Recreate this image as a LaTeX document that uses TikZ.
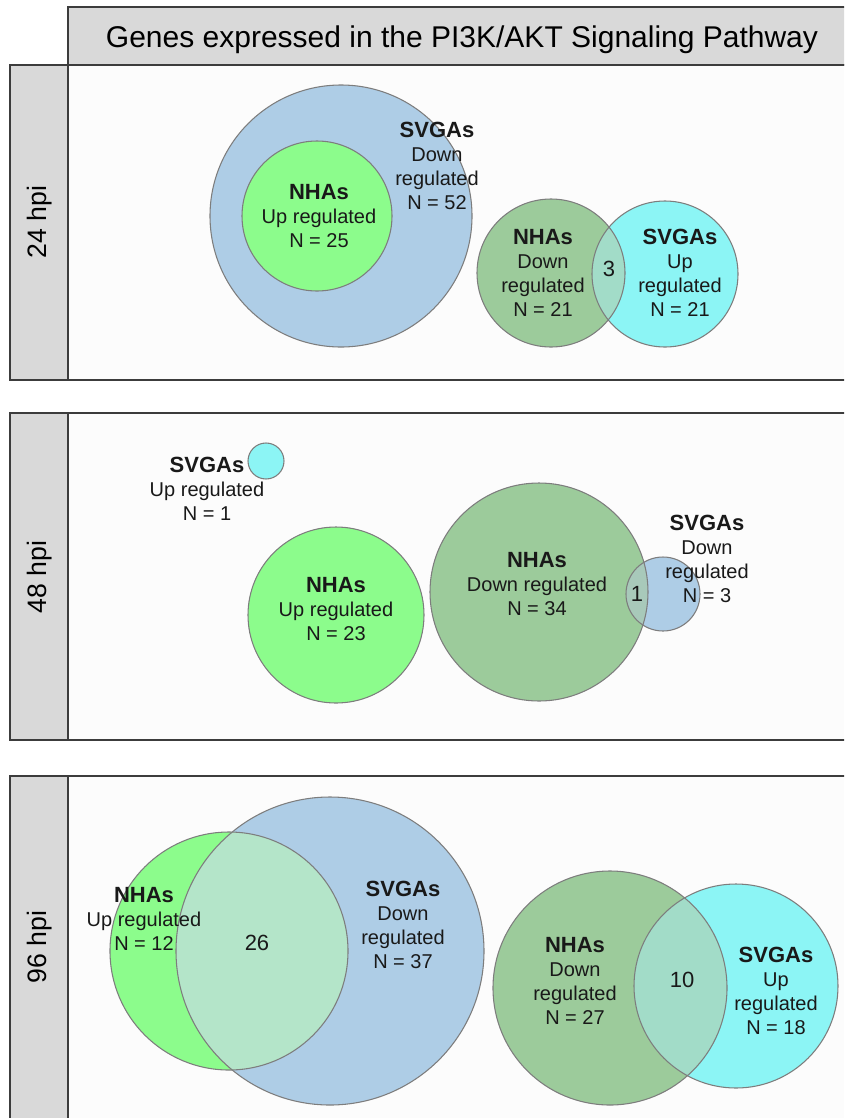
\documentclass[tikz,border=0pt]{standalone}
\usepackage{fontspec}
\setmainfont{Liberation Sans}
\definecolor{cblue}{RGB}{174,205,230}
\definecolor{cgreen}{RGB}{140,252,140}
\definecolor{cdgreen}{RGB}{156,203,155}
\definecolor{ccyan}{RGB}{140,245,245}
\definecolor{ovgb}{RGB}{180,229,201}
\definecolor{ovdc}{RGB}{162,220,200}
\definecolor{ovdb}{RGB}{168,201,186}
\definecolor{vline}{RGB}{125,125,125}
\definecolor{pline}{RGB}{60,60,60}
\definecolor{hfill}{RGB}{217,217,217}
\begin{document}
\begin{tikzpicture}[x=0.75pt,y=-0.75pt,
  venn/.style={draw=vline, line width=0.8pt},
  frame/.style={draw=pline, line width=1.1pt},
  lbl/.style={font=\fontsize{15}{18}\selectfont, align=center, inner sep=0pt, text=black!90},
  num/.style={font=\fontsize{16.5}{18}\selectfont, inner sep=0pt, text=black!90},
  hpi/.style={font=\fontsize{20}{24}\selectfont, rotate=90, inner sep=0pt}]
\newcommand{\hb}[1]{{\fontsize{16.5}{18}\selectfont\bfseries #1}}
\path[use as bounding box, clip] (0,0) rectangle (844,1118);
% header
\fill[white] (0,0) rectangle (844,1118);
\path[frame, fill=hfill] (68,7) rectangle (852,65);
\node[font=\fontsize{22.5}{27}\selectfont, anchor=base, inner sep=0pt] (title) at (462,47) {Genes expressed in the PI3K/AKT Signaling Pathway};
% panels
\foreach \t/\b in {65/380, 413/740, 776/1125} {
  \fill[hfill] (10,\t) rectangle (68,\b);
  \fill[white!99!black] (68,\t) rectangle (852,\b);
  \draw[frame] (10,\t) rectangle (852,\b);
  \draw[frame] (68,\t) -- (68,\b);
}
\node[hpi] (h24) at (40,222) {24 hpi};
\node[hpi] (h48) at (40,577) {48 hpi};
\node[hpi] (h96) at (40,947) {96 hpi};
% ---- panel 1
\path[venn, fill=cblue] (341,216) circle[radius=131];
\path[venn, fill=cgreen] (317,216) circle[radius=75];
\fill[cdgreen] (551,273) circle[radius=74];
\fill[ccyan] (665,274) circle[radius=73];
\begin{scope}\clip (551,273) circle[radius=74]; \fill[ovdc] (665,274) circle[radius=73];\end{scope}
\draw[venn] (551,273) circle[radius=74];
\draw[venn] (665,274) circle[radius=73];
\node[lbl] (p1a) at (437,166) {\hb{SVGAs}\\Down\\regulated\\N = 52};
\node[lbl] (p1b) at (319,216) {\hb{NHAs}\\Up regulated\\N = 25};
\node[lbl] (p1c) at (543,273) {\hb{NHAs}\\Down\\regulated\\N = 21};
\node[lbl] (p1d) at (680,273) {\hb{SVGAs}\\Up\\regulated\\N = 21};
\node[num] (p1e) at (609,269) {3};
% ---- panel 2
\path[venn, fill=ccyan] (266,461) circle[radius=18];
\path[venn, fill=cgreen] (336,615) circle[radius=88];
\fill[cdgreen] (539,592) circle[radius=109];
\fill[cblue] (663,594) circle[radius=37];
\begin{scope}\clip (539,592) circle[radius=109]; \fill[ovdb] (663,594) circle[radius=37];\end{scope}
\draw[venn] (539,592) circle[radius=109];
\draw[venn] (663,594) circle[radius=37];
\node[lbl] (p2a) at (207,489) {\hb{SVGAs}\\Up regulated\\N = 1};
\node[lbl] (p2b) at (336,609) {\hb{NHAs}\\Up regulated\\N = 23};
\node[lbl] (p2c) at (537,584) {\hb{NHAs}\\Down regulated\\N = 34};
\node[lbl] (p2d) at (707,559) {\hb{SVGAs}\\Down\\regulated\\N = 3};
\node[num] (p2e) at (637,594) {1};
% ---- panel 3
\fill[cgreen] (229,951) circle[radius=119];
\fill[cblue] (330,951) circle[radius=154];
\begin{scope}\clip (229,951) circle[radius=119]; \fill[ovgb] (330,951) circle[radius=154];\end{scope}
\draw[venn] (229,951) circle[radius=119];
\draw[venn] (330,951) circle[radius=154];
\fill[cdgreen] (610,988) circle[radius=117];
\fill[ccyan] (736,986) circle[radius=102];
\begin{scope}\clip (610,988) circle[radius=117]; \fill[ovdc] (736,986) circle[radius=102];\end{scope}
\draw[venn] (610,988) circle[radius=117];
\draw[venn] (736,986) circle[radius=102];
\node[lbl] (p3a) at (144,919) {\hb{NHAs}\\Up regulated\\N = 12};
\node[num] (p3b) at (257,943) {26};
\node[lbl] (p3c) at (403,925) {\hb{SVGAs}\\Down\\regulated\\N = 37};
\node[lbl] (p3d) at (575,981) {\hb{NHAs}\\Down\\regulated\\N = 27};
\node[num] (p3e) at (682,980) {10};
\node[lbl] (p3f) at (776,991) {\hb{SVGAs}\\Up\\regulated\\N = 18};
\end{tikzpicture}
\end{document}
